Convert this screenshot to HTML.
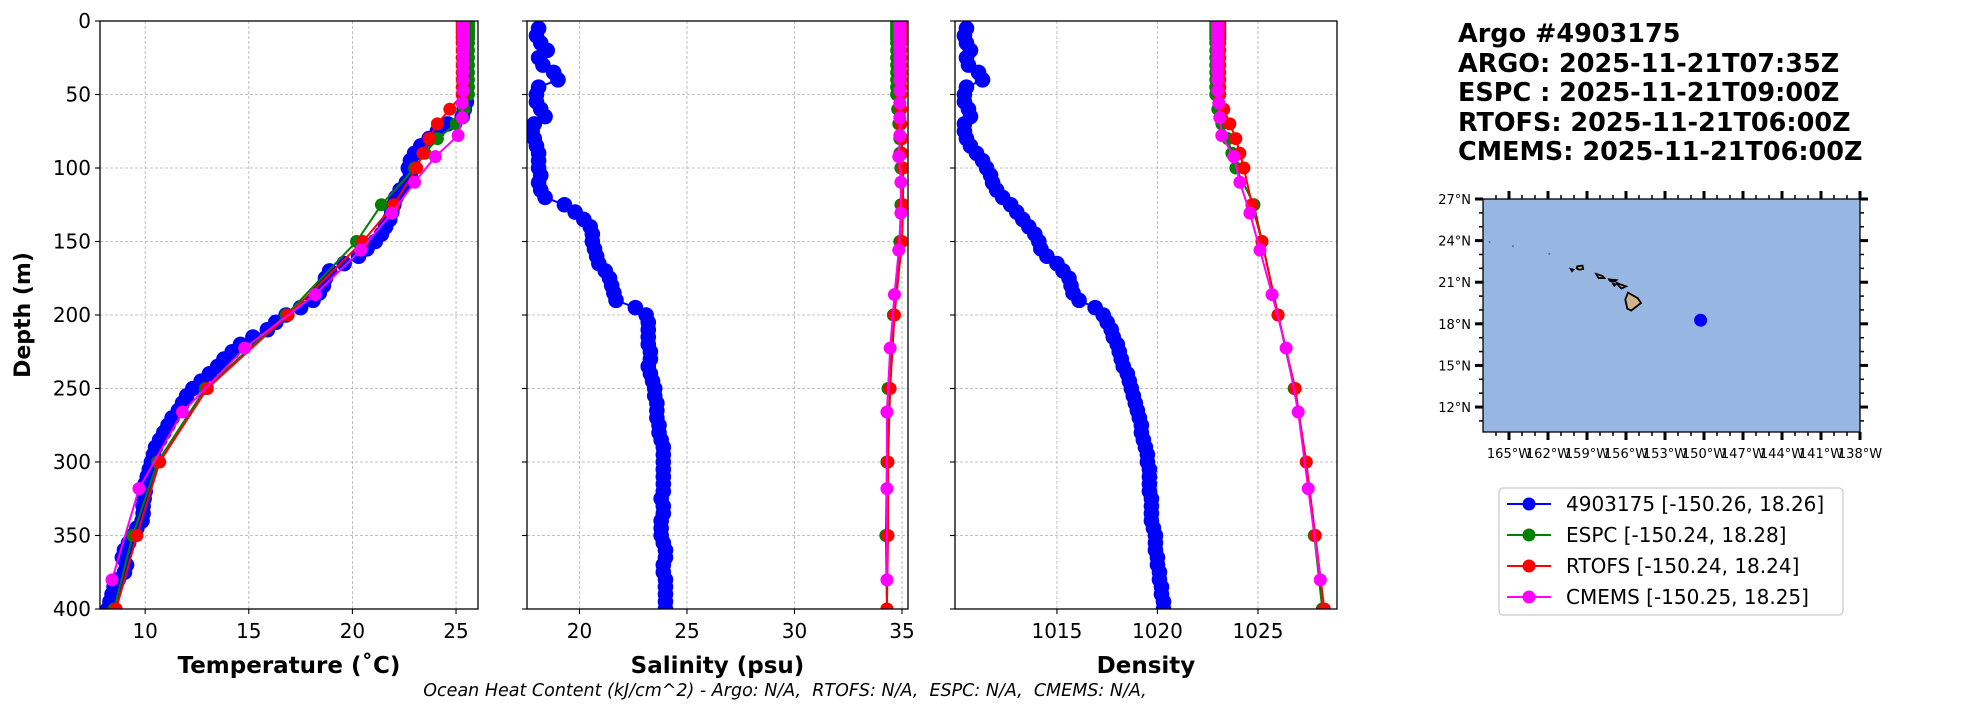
<!DOCTYPE html>
<html><head><meta charset="utf-8">
<style>
html,body{margin:0;padding:0;background:#fff;}
svg{display:block;font-family:"DejaVu Sans","Liberation Sans",sans-serif;}
</style></head>
<body>
<svg id="fig" width="1967" height="712" viewBox="0 0 1967 712" xmlns="http://www.w3.org/2000/svg">
<defs>
<clipPath id="clipT"><rect x="100" y="21" width="378" height="588"/></clipPath>
<clipPath id="clipS"><rect x="527" y="21" width="381" height="588"/></clipPath>
<clipPath id="clipD"><rect x="955" y="21" width="382" height="588"/></clipPath>
<clipPath id="clipM"><rect x="1483" y="199" width="377" height="233"/></clipPath>
</defs>
<g id="title" font-weight="bold" font-size="25.5">
<text x="1458" y="42">Argo #4903175</text>
<text x="1458" y="72">ARGO: 2025-11-21T07:35Z</text>
<text x="1458" y="101">ESPC : 2025-11-21T09:00Z</text>
<text x="1458" y="131">RTOFS: 2025-11-21T06:00Z</text>
<text x="1458" y="160">CMEMS: 2025-11-21T06:00Z</text>
</g>
<text x="785" y="696" text-anchor="middle" font-style="italic" font-size="17.5">Ocean Heat Content (kJ/cm^2) - Argo: N/A,&#160; RTOFS: N/A,&#160; ESPC: N/A,&#160; CMEMS: N/A,</text>
<g id="legend">
<rect x="1499" y="488" width="344" height="127" rx="4" fill="#fff" stroke="#ccc" stroke-width="1.3"/>
</g>
</svg>
<script>
// ---- data ----
const argoDepth=[5,10,15,20,25,30,35,40,45,50,55,60,65,70,75,80,85,90,95,100,105,110,115,120,125,130,135,140,145,150,155,160,165,170,175,180,185,190,195,200,205,210,215,220,225,230,235,240,245,250,255,260,265,270,275,280,285,290,295,300,305,310,315,320,325,330,335,340,345,350,355,360,365,370,375,380,385,390,395,400];
const argoTemp=[25.5,25.5,25.5,25.5,25.5,25.5,25.5,25.5,25.5,25.5,25.5,25.4,25.3,24.6,24.1,23.7,23.3,23.0,22.8,22.7,22.8,22.6,22.3,22.1,22.0,21.9,21.8,21.6,21.4,21.1,20.7,20.3,19.6,18.9,18.7,18.6,18.4,18.1,17.5,16.8,16.3,15.9,15.2,14.6,14.2,13.8,13.5,13.1,12.7,12.3,12.0,11.8,11.6,11.3,11.1,10.9,10.7,10.5,10.4,10.3,10.2,10.1,10.0,10.0,9.95,9.9,9.9,9.85,9.6,9.4,9.2,9.0,8.9,9.1,9.0,8.7,8.5,8.4,8.3,8.2];
const argoSal=[18.1,18.0,18.2,18.5,18.1,18.3,18.8,19.0,18.1,18.0,18.0,18.2,18.4,17.9,17.8,17.9,18.0,18.1,18.1,18.1,18.2,18.1,18.2,18.4,19.3,19.8,20.2,20.5,20.6,20.6,20.7,20.8,20.9,21.2,21.4,21.5,21.6,21.7,22.6,23.1,23.2,23.2,23.2,23.2,23.3,23.3,23.2,23.3,23.4,23.5,23.5,23.6,23.6,23.6,23.7,23.7,23.8,23.9,23.9,23.9,23.9,23.9,23.9,23.9,23.8,23.9,23.9,23.8,23.8,23.8,23.9,24.0,24.0,23.9,23.9,24.0,24.0,24.0,24.0,24.0];
const argoDens=[1010.5,1010.4,1010.5,1010.7,1010.5,1010.6,1011.1,1011.3,1010.5,1010.4,1010.4,1010.6,1010.7,1010.4,1010.4,1010.5,1010.7,1011.0,1011.3,1011.5,1011.7,1011.8,1012.0,1012.3,1012.7,1013.0,1013.3,1013.6,1013.9,1014.1,1014.2,1014.5,1015.0,1015.3,1015.6,1015.7,1015.8,1016.1,1016.9,1017.3,1017.5,1017.7,1017.8,1018.0,1018.1,1018.2,1018.3,1018.5,1018.6,1018.7,1018.8,1018.9,1019.0,1019.1,1019.2,1019.2,1019.3,1019.4,1019.5,1019.5,1019.6,1019.6,1019.6,1019.6,1019.7,1019.7,1019.7,1019.7,1019.8,1019.9,1019.9,1019.9,1020.0,1020.0,1020.1,1020.1,1020.2,1020.2,1020.3,1020.3];
const modelDepth=[0,2,4,6,8,10,12,15,20,25,30,35,40,45,50,60,70,80,90,100,125,150,200,250,300,350,400];
const espcTemp=[25.6,25.6,25.6,25.6,25.6,25.6,25.6,25.6,25.6,25.6,25.6,25.6,25.6,25.6,25.6,25.4,25.0,24.1,23.5,23.0,21.4,20.2,16.8,12.9,10.6,9.4,8.5];
const rtofsTemp=[25.3,25.3,25.3,25.3,25.3,25.3,25.3,25.3,25.3,25.3,25.3,25.3,25.3,25.3,25.3,24.7,24.1,23.7,23.4,23.1,22.0,20.5,16.9,13.0,10.7,9.6,8.6];
const espcSal=[34.75,34.75,34.75,34.75,34.75,34.75,34.75,34.75,34.75,34.75,34.75,34.75,34.75,34.75,34.75,34.8,34.85,34.9,34.9,34.95,34.95,34.9,34.6,34.35,34.3,34.25,34.3];
const rtofsSal=[34.95,34.95,34.95,34.95,34.95,34.95,34.95,34.95,34.95,34.95,34.95,34.95,34.95,34.95,34.95,34.95,34.95,35.0,35.0,35.05,35.05,35.0,34.65,34.45,34.35,34.35,34.3];
const espcDens=[1022.9,1022.9,1022.9,1022.9,1022.9,1022.9,1022.9,1022.9,1022.9,1022.9,1022.9,1022.9,1022.9,1022.9,1022.9,1023.0,1023.2,1023.5,1023.7,1023.9,1024.8,1025.2,1026.0,1026.8,1027.4,1027.8,1028.2];
const rtofsDens=[1023.1,1023.1,1023.1,1023.1,1023.1,1023.1,1023.1,1023.1,1023.1,1023.1,1023.1,1023.1,1023.1,1023.1,1023.1,1023.3,1023.6,1023.9,1024.1,1024.3,1024.7,1025.2,1026.0,1026.85,1027.4,1027.85,1028.3];
const cmemsDepth=[0.5,1.5,2.6,3.8,5,6.4,7.9,9.6,11.4,13.5,15.8,18.5,21.6,25.2,29.4,34.4,40.3,47.4,55.8,65.8,77.9,92.3,109.7,130.7,155.9,186.1,222.5,266.0,318.1,380.2];
const cmemsTemp=[25.35,25.35,25.35,25.35,25.35,25.35,25.35,25.35,25.35,25.35,25.35,25.35,25.35,25.35,25.35,25.35,25.35,25.35,25.3,25.3,25.1,24.0,23.0,21.9,20.4,18.2,14.8,11.8,9.7,8.4];
const cmemsSal=[34.9,34.9,34.9,34.9,34.9,34.9,34.9,34.9,34.9,34.9,34.9,34.9,34.9,34.9,34.9,34.9,34.9,34.9,34.9,34.9,34.9,34.85,34.95,34.95,34.85,34.65,34.45,34.3,34.3,34.3];
const cmemsDens=[1023.0,1023.0,1023.0,1023.0,1023.0,1023.0,1023.0,1023.0,1023.0,1023.0,1023.0,1023.0,1023.0,1023.0,1023.0,1023.0,1023.0,1023.0,1023.05,1023.1,1023.2,1023.8,1024.1,1024.6,1025.1,1025.7,1026.4,1027.0,1027.5,1028.1];
const depthTicks=[0,50,100,150,200,250,300,350,400];
const tempTicks=[10,15,20,25];
const salTicks=[20,25,30,35];
const densTicks=[1015,1020,1025];
const legendLabels=["4903175 [-150.26, 18.26]","ESPC [-150.24, 18.28]","RTOFS [-150.24, 18.24]","CMEMS [-150.25, 18.25]"];
const floatLon=-150.26, floatLat=18.26;
const latTicks=[12,15,18,21,24,27];
const lonTicks=[-165,-162,-159,-156,-153,-150,-147,-144,-141,-138];

const NS="http://www.w3.org/2000/svg";
const svg=document.getElementById('fig');
function mk(tag,attrs,parent){const e=document.createElementNS(NS,tag);for(const k in attrs)e.setAttribute(k,attrs[k]);(parent||svg).appendChild(e);return e;}
const Y0=21,Y1=609;
function yScale(d){return Y0+(d/400)*(Y1-Y0);}
const panels=[
 {key:'temperature',x0:100,x1:478,min:7.82,max:26.06,ticks:tempTicks,clip:'clipT',label:'Temperature (˚C)',ylab:true,
  series:[[argoDepth,argoTemp],[modelDepth,espcTemp],[modelDepth,rtofsTemp],[cmemsDepth,cmemsTemp]]},
 {key:'salinity',x0:527,x1:908,min:17.56,max:35.28,ticks:salTicks,clip:'clipS',label:'Salinity (psu)',ylab:false,
  series:[[argoDepth,argoSal],[modelDepth,espcSal],[modelDepth,rtofsSal],[cmemsDepth,cmemsSal]]},
 {key:'density',x0:955,x1:1337,min:1009.93,max:1028.93,ticks:densTicks,clip:'clipD',label:'Density',ylab:false,
  series:[[argoDepth,argoDens],[modelDepth,espcDens],[modelDepth,rtofsDens],[cmemsDepth,cmemsDens]]}
];
const colors=['#0000ff','#008000','#ff0000','#ff00ff'];
const snames=['argo','espc','rtofs','cmems'];
panels.forEach(p=>{
  const g=mk('g',{});
  
  
  const xs=v=>p.x0+(v-p.min)/(p.max-p.min)*(p.x1-p.x0);
  p.ticks.forEach(t=>{const l=mk('line',{x1:xs(t),x2:xs(t),y1:Y0,y2:Y1,stroke:'#b0b0b0','stroke-width':0.8,'stroke-dasharray':'3,2'},g);
    });
  depthTicks.forEach(t=>{const l=mk('line',{x1:p.x0,x2:p.x1,y1:yScale(t),y2:yScale(t),stroke:'#b0b0b0','stroke-width':0.8,'stroke-dasharray':'3,2'},g);
    });
  const sg=mk('g',{'clip-path':'url(#'+p.clip+')'},g);
  p.series.forEach((s,i)=>{
    const [dep,val]=s;
    const ser=mk('g',{},sg);
    
    
    let pts=dep.map((d,j)=>xs(val[j]).toFixed(1)+','+yScale(d).toFixed(1)).join(' ');
    mk('polyline',{points:pts,fill:'none',stroke:colors[i],'stroke-width':2},ser);
    dep.forEach((d,j)=>{const c=mk('circle',{cx:xs(val[j]),cy:yScale(d),r:i==0?7.8:6.5,fill:colors[i]},ser);
      });
  });
  const fr=mk('rect',{x:p.x0,y:Y0,width:p.x1-p.x0,height:Y1-Y0,fill:'none',stroke:'#000','stroke-width':1.3},g);
  
  p.ticks.forEach(t=>{
    mk('line',{x1:xs(t),x2:xs(t),y1:Y1,y2:Y1+5,stroke:'#000','stroke-width':1.1},g);
    const tx=mk('text',{x:xs(t),y:Y1+29,'text-anchor':'middle','font-size':20},g);tx.textContent=t;
    
  });
  depthTicks.forEach(t=>{
    mk('line',{x1:p.x0-5,x2:p.x0,y1:yScale(t),y2:yScale(t),stroke:'#000','stroke-width':1.1},g);
    if(p.ylab){const tx=mk('text',{x:p.x0-9,y:yScale(t)+7,'text-anchor':'end','font-size':20},g);tx.textContent=t;
      }
  });
  const xl=mk('text',{x:(p.x0+p.x1)/2,y:673,'text-anchor':'middle','font-size':23,'font-weight':'bold'},g);
  xl.textContent=p.label;
  if(p.ylab){const yl=mk('text',{x:0,y:0,transform:'translate(30,315) rotate(-90)','text-anchor':'middle','font-size':22,'font-weight':'bold'},g);
    yl.textContent='Depth (m)';}
});
// ---- map ----
const MX0=1483,MX1=1860,MY0=199,MY1=432;
const lonMin=-167,lonMax=-138,latMin=10.2,latMax=27;
const mx=lon=>MX0+(lon-lonMin)/(lonMax-lonMin)*(MX1-MX0);
const my=lat=>MY0+(latMax-lat)/(latMax-latMin)*(MY1-MY0);
const mg=mk('g',{});


mk('rect',{x:MX0,y:MY0,width:MX1-MX0,height:MY1-MY0,fill:'#97b6e1'},mg);
const islands=[
 [[-155.85,20.25],[-155.1,19.85],[-154.85,19.5],[-155.6,18.95],[-155.9,19.1],[-156.05,19.75]],
 [[-156.7,20.95],[-156.45,20.85],[-156.0,20.7],[-156.35,20.55],[-156.6,20.78]],
 [[-157.3,21.2],[-156.75,21.15],[-156.9,21.05],[-157.25,21.1]],
 [[-157.0,20.9],[-156.8,20.85],[-156.9,20.75]],
 [[-158.3,21.6],[-157.8,21.45],[-157.65,21.3],[-158.1,21.3],[-158.25,21.5]],
 [[-159.75,22.15],[-159.35,22.2],[-159.3,21.95],[-159.6,21.9],[-159.8,22.0]],
 [[-160.25,21.95],[-160.05,21.9],[-160.15,21.8]]
];
islands.forEach(poly=>{const e=mk('polygon',{points:poly.map(q=>mx(q[0]).toFixed(1)+','+my(q[1]).toFixed(1)).join(' '),fill:'#d2b48c',stroke:'#000','stroke-width':1.8},mg);
  });
[[-166.5,23.9],[-164.7,23.6],[-161.9,23.05]].forEach(q=>mk('circle',{cx:mx(q[0]),cy:my(q[1]),r:1,fill:'#666'},mg));
const fd=mk('circle',{cx:mx(floatLon),cy:my(floatLat),r:6.5,fill:'#0000ff'},mg);

mk('rect',{x:MX0,y:MY0,width:MX1-MX0,height:MY1-MY0,fill:'none',stroke:'#000','stroke-width':1.3},mg);
for(let lat=11;lat<=27;lat++){const y=my(lat);const maj=latTicks.includes(lat);const L=maj?8:4;
  mk('line',{x1:MX0-L,x2:MX0,y1:y,y2:y,stroke:'#000','stroke-width':maj?3:1.5},mg);
  mk('line',{x1:MX1,x2:MX1+L,y1:y,y2:y,stroke:'#000','stroke-width':maj?3:1.5},mg);}
for(let lon=-166;lon<=-138;lon++){const x=mx(lon);const maj=lonTicks.includes(lon);const L=maj?8:4;
  mk('line',{x1:x,x2:x,y1:MY0-L,y2:MY0,stroke:'#000','stroke-width':maj?3:1.5},mg);
  mk('line',{x1:x,x2:x,y1:MY1,y2:MY1+L,stroke:'#000','stroke-width':maj?3:1.5},mg);}
latTicks.forEach(t=>{const tx=mk('text',{x:MX0-12,y:my(t)+5,'text-anchor':'end','font-size':13},mg);tx.textContent=t+'°N';
  });
lonTicks.forEach(t=>{const tx=mk('text',{x:mx(t),y:458,'text-anchor':'middle','font-size':13},mg);tx.textContent=(-t)+'°W';
  });
// ---- legend ----
const lg=document.getElementById('legend');
legendLabels.forEach((lab,i)=>{
  const y=504+i*31;
  const e=mk('g',{},lg);
  
  
  mk('line',{x1:1507,x2:1551,y1:y,y2:y,stroke:colors[i],'stroke-width':2},e);
  mk('circle',{cx:1529,cy:y,r:6.5,fill:colors[i]},e);
  const t=mk('text',{x:1566,y:y+7,'font-size':20},e);t.textContent=lab;
});
</script>
</body></html>
